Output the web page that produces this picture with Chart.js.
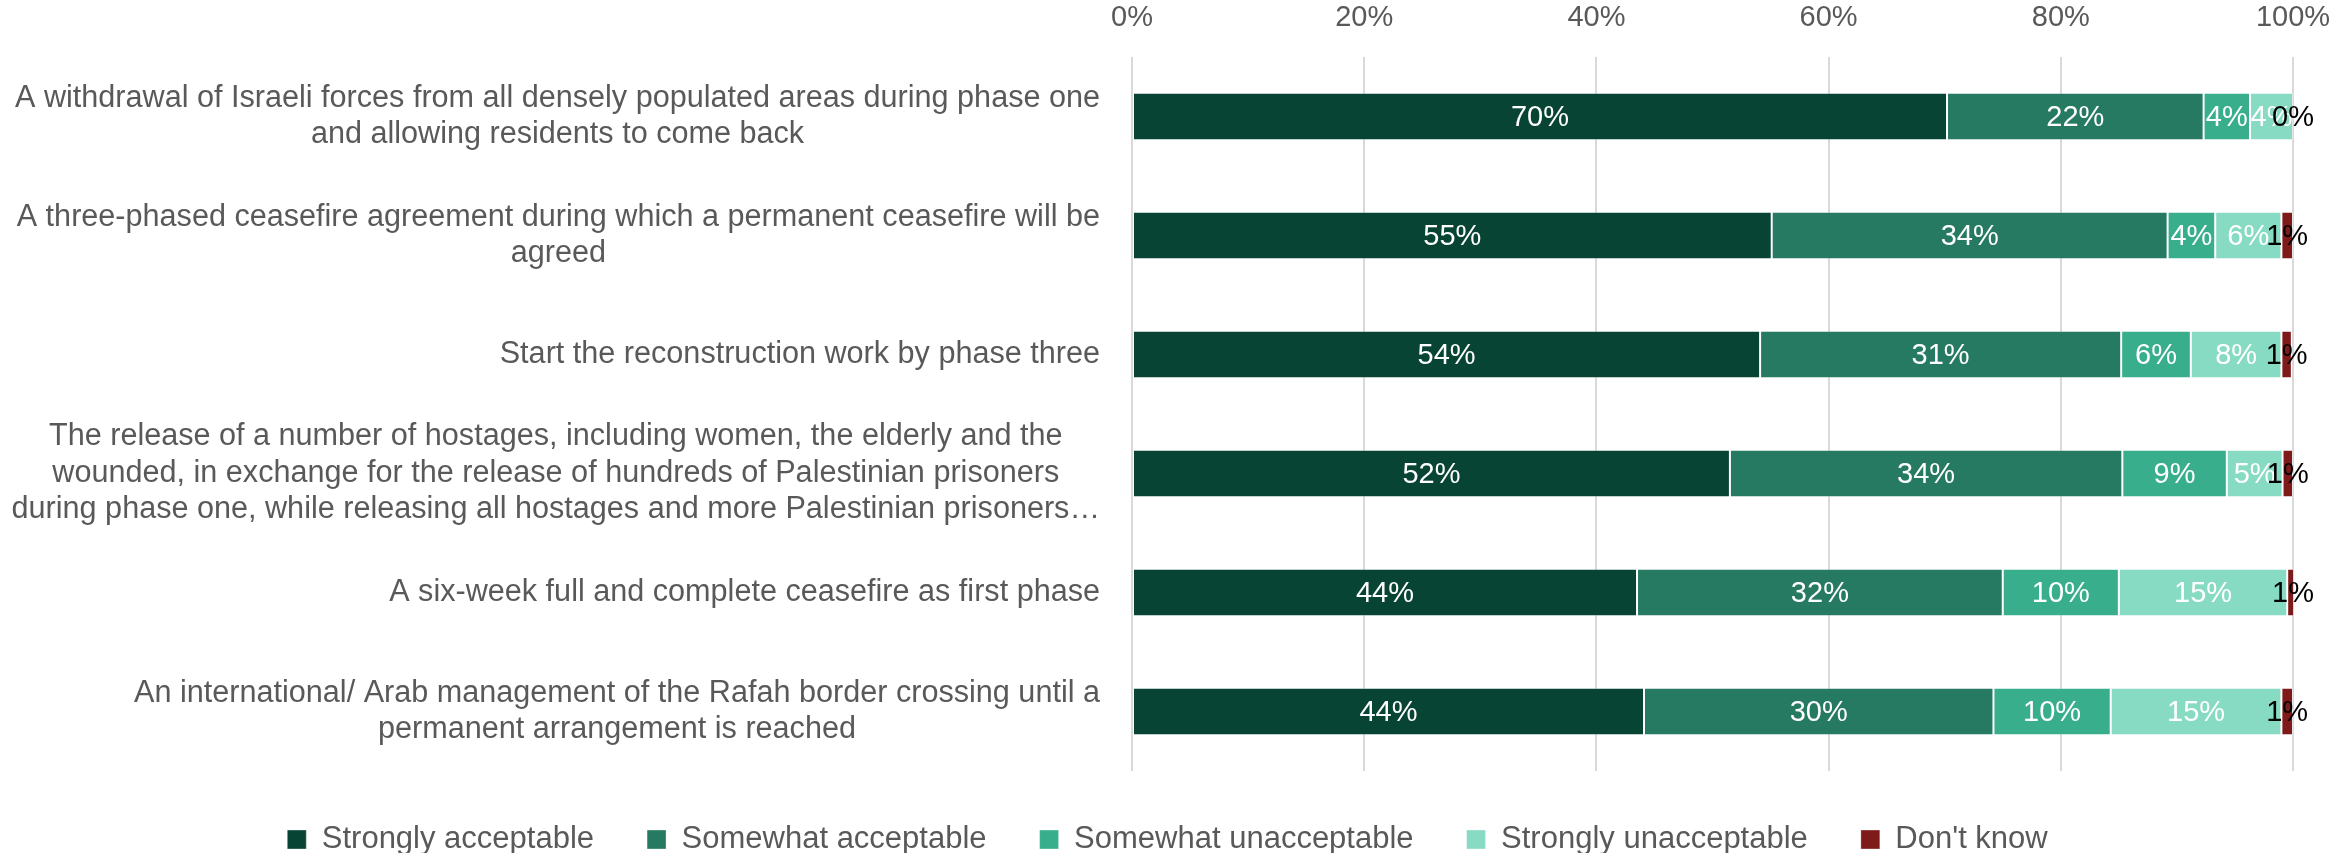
<!DOCTYPE html>
<html>
<head>
<meta charset="utf-8">
<script src="https://cdn.jsdelivr.net/npm/chart.js@4/dist/chart.umd.min.js"></script>
<style>
  html, body { margin: 0; padding: 0; background: #fff; }
  canvas { display: block; }
</style>
</head>
<body>
<canvas id="plansChart" width="2335" height="853"></canvas>
<script>
// statements, wrapped the way the original chart wraps them
const statements = [
  ['A withdrawal of Israeli forces from all densely populated areas during phase one', 'and allowing residents to come back'],
  ['A three-phased ceasefire agreement during which a permanent ceasefire will be', 'agreed'],
  ['Start the reconstruction work by phase three'],
  ['The release of a number of hostages, including women, the elderly and the', 'wounded, in exchange for the release of hundreds of Palestinian prisoners', 'during phase one, while releasing all hostages and more Palestinian prisoners\u2026'],
  ['A six-week full and complete ceasefire as first phase'],
  ['An international/ Arab management of the Rafah border crossing until a', 'permanent arrangement is reached']
];

const seriesNames = ['Strongly acceptable', 'Somewhat acceptable', 'Somewhat unacceptable', 'Strongly unacceptable', "Don't know"];
const seriesColors = ['#084434', '#267a62', '#38ae8c', '#88dbc3', '#7f1a1a'];

// percentages
const stronglyAcceptable = [70.2, 55.1, 54.1, 51.5, 43.5, 44.1];
const somewhatAcceptable = [22.1, 34.1, 31.1, 33.8, 31.5, 30.1];
const somewhatUnacceptable = [4.0, 4.1, 6.0, 9.0, 10.0, 10.1];
const stronglyUnacceptable = [3.7, 5.7, 7.8, 4.8, 14.5, 14.7];
const dontKnow = [0, 1.0, 0.9, 0.9, 1.0, 1.0];

const xTicks = [0, 20, 40, 60, 80, 100];

const FONT = "'Liberation Sans', Arial, sans-serif";
const GREY = '#595959';

// draws the multi-line statement labels: block right aligned, lines centred in the block
const statementLabels = {
  id: 'statementLabels',
  afterDraw(chart) {
    const ctx = chart.ctx;
    const yScale = chart.scales.y;
    const right = chart.chartArea.left - 32;
    const lineH = 36.5;
    ctx.save();
    ctx.font = '30.6px ' + FONT;
    ctx.fillStyle = GREY;
    ctx.textAlign = 'center';
    ctx.textBaseline = 'middle';
    statements.forEach((lines, i) => {
      const w = Math.max(...lines.map(l => ctx.measureText(l).width));
      const cx = right - w / 2;
      const cy = yScale.getPixelForValue(i);
      lines.forEach((line, k) => {
        ctx.fillText(line, cx, cy + (k - (lines.length - 1) / 2) * lineH);
      });
    });
    ctx.restore();
  }
};

// percentage labels in the middle of each segment
const segmentLabels = {
  id: 'segmentLabels',
  afterDatasetsDraw(chart) {
    const ctx = chart.ctx;
    ctx.save();
    ctx.font = '29px ' + FONT;
    ctx.textAlign = 'center';
    ctx.textBaseline = 'middle';
    chart.data.datasets.forEach((ds, i) => {
      const meta = chart.getDatasetMeta(i);
      meta.data.forEach((bar, j) => {
        ctx.fillStyle = i === 4 ? '#000000' : '#ffffff';
        ctx.fillText(Math.round(ds.data[j]) + '%', (bar.x + bar.base) / 2, bar.y + 1);
      });
    });
    ctx.restore();
  }
};

// keep the legend short so the plot can reach down to it
const legendHeight = {
  id: 'legendHeight',
  beforeInit(chart) {
    const legend = chart.legend;
    const fit = legend.fit;
    legend.fit = function () {
      fit.call(this);
      this.height = 82;
    };
  }
};

const allSeries = [stronglyAcceptable, somewhatAcceptable, somewhatUnacceptable, stronglyUnacceptable, dontKnow];

new Chart(document.getElementById('plansChart'), {
  type: 'bar',
  data: {
    labels: statements.map(l => l.join(' ')),
    datasets: allSeries.map((data, i) => ({
      label: seriesNames[i],
      data: data,
      backgroundColor: seriesColors[i],
      borderColor: 'rgba(255,255,255,0.35)',
      borderWidth: 1,
      borderSkipped: false,
      barPercentage: 0.4,
      categoryPercentage: 1
    }))
  },
  options: {
    indexAxis: 'y',
    responsive: false,
    devicePixelRatio: 1,
    animation: false,
    layout: { padding: 0 },
    scales: {
      x: {
        position: 'top',
        stacked: true,
        min: 0,
        max: 100,
        afterBuildTicks: s => { s.ticks = xTicks.map(v => ({ value: v })); },
        afterFit: s => { s.paddingRight = 42; s.height = 57; },
        ticks: {
          callback: v => v + '%',
          color: GREY,
          font: { family: FONT, size: 29 },
          padding: 22
        },
        grid: { color: '#d9d9d9', lineWidth: 2, drawTicks: false },
        border: { display: false }
      },
      y: {
        stacked: true,
        afterFit: s => { s.width = 1132; },
        ticks: { display: false },
        grid: { display: false },
        border: { display: false }
      }
    },
    plugins: {
      legend: {
        position: 'bottom',
        labels: {
          color: GREY,
          font: { family: FONT, size: 31 },
          boxWidth: 19,
          boxHeight: 19,
          padding: 53
        }
      },
      tooltip: { enabled: false }
    }
  },
  plugins: [statementLabels, segmentLabels, legendHeight]
});
</script>
</body>
</html>
